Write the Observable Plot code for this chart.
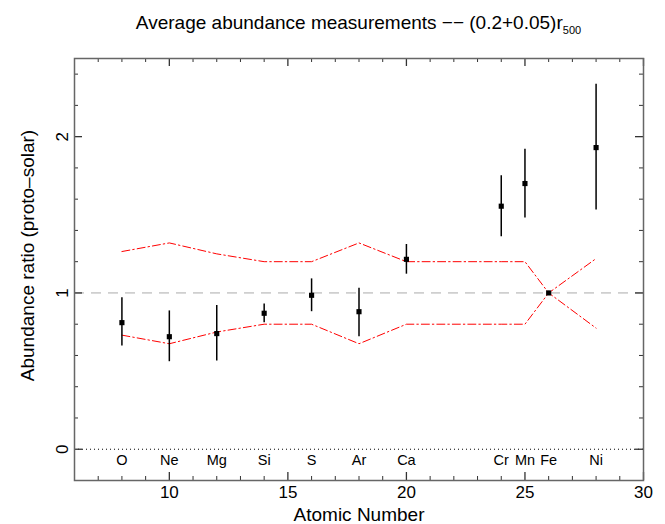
<!DOCTYPE html>
<html>
<head>
<meta charset="utf-8">
<script src="https://cdn.jsdelivr.net/npm/d3@7"></script>
<script src="https://cdn.jsdelivr.net/npm/@observablehq/plot@0.6"></script>
<style>
  body { margin: 0; background: white; }
  #wrap { position: relative; width: 665px; height: 524px; font-family: "Liberation Sans", Arial, sans-serif; }
  #title { position: absolute; left: 74px; width: 569px; top: 13px; text-align: center; font-size: 19px; line-height: 19px; color: #000; }
  #title .sub { position: relative; top: 5px; font-size: 11px; }
</style>
</head>
<body>
<div id="wrap">
  <div id="title">Average abundance measurements −− (0.2+0.05)r<span class="sub">500</span></div>
</div>
<script>
const elements = ["O","Ne","Mg","Si","S","Ar","Ca","Cr","Mn","Fe","Ni"];
const atomicNumber = [8,10,12,14,16,18,20,24,25,26,28];
const abundance = [0.81,0.72,0.74,0.87,0.985,0.88,1.215,1.555,1.70,1.00,1.93];
const errLow  = [0.66,0.56,0.565,0.81,0.88,0.72,1.12,1.36,1.48,0.99,1.53];
const errHigh = [0.97,0.885,0.92,0.93,1.09,1.03,1.31,1.75,1.92,1.01,2.335];
const sysUpper = [1.265,1.32,1.25,1.2,1.2,1.32,1.2,1.2,1.2,1.0,1.22];
const sysLower = [0.73,0.675,0.75,0.8,0.8,0.675,0.8,0.8,0.8,1.0,0.775];

const xMajorTicks = [10,15,20,25,30];
const xMinorTicks = [6,7,8,9,11,12,13,14,16,17,18,19,21,22,23,24,26,27,28,29];
const yMajorTicks = [0,1,2];
const yMinorTicks = [-0.2,0.2,0.4,0.6,0.8,1.2,1.4,1.6,1.8,2.2,2.4];

const data = elements.map((el, i) => ({
  el, Z: atomicNumber[i], ratio: abundance[i], lo: errLow[i], hi: errHigh[i],
  up: sysUpper[i], dn: sysLower[i]
}));

const W = 665, H = 524, mL = 74, mR = 22, mT = 58, mB = 44;
const FW = W - mL - mR, FH = H - mT - mB;
const tickColor = "#333";

const chart = Plot.plot({
  width: W, height: H,
  marginLeft: mL, marginRight: mR, marginTop: mT, marginBottom: mB,
  x: {domain: [6, 30], axis: null},
  y: {domain: [-0.2, 2.5], axis: null},
  style: {fontFamily: '"Liberation Sans", Arial, sans-serif', background: "white", color: "black"},
  marks: [
    Plot.ruleY([1], {stroke: "#aaa", strokeDasharray: "10,7", strokeWidth: 1}),
    Plot.ruleY([0], {stroke: "#000", strokeDasharray: "1,3", strokeWidth: 1}),
    Plot.line(data, {x: "Z", y: "up", stroke: "red", strokeWidth: 1, strokeDasharray: "8,3,1.5,3"}),
    Plot.line(data, {x: "Z", y: "dn", stroke: "red", strokeWidth: 1, strokeDasharray: "8,3,1.5,3"}),
    Plot.ruleX(data, {x: "Z", y1: "lo", y2: "hi", stroke: "black", strokeWidth: 1.5}),
    Plot.dot(data, {x: "Z", y: "ratio", symbol: "square", r: 2.9, fill: "black", stroke: null}),
    // inward ticks: bottom/top
    Plot.tickX(xMinorTicks, {x: d => d, insetTop: FH - 4, stroke: tickColor}),
    Plot.tickX(xMajorTicks, {x: d => d, insetTop: FH - 8, stroke: tickColor, strokeWidth: 1.3}),
    Plot.tickX(xMinorTicks, {x: d => d, insetBottom: FH - 4, stroke: tickColor}),
    Plot.tickX(xMajorTicks, {x: d => d, insetBottom: FH - 8, stroke: tickColor, strokeWidth: 1.3}),
    // inward ticks: left/right
    Plot.tickY(yMinorTicks, {y: d => d, insetRight: FW - 4, stroke: tickColor}),
    Plot.tickY(yMajorTicks, {y: d => d, insetRight: FW - 8, stroke: tickColor, strokeWidth: 1.3}),
    Plot.tickY(yMinorTicks, {y: d => d, insetLeft: FW - 4, stroke: tickColor}),
    Plot.tickY(yMajorTicks, {y: d => d, insetLeft: FW - 8, stroke: tickColor, strokeWidth: 1.3}),
    Plot.frame({stroke: "#666", strokeWidth: 1.5}),
    // tick labels
    Plot.text(xMajorTicks, {x: d => d, text: d => String(d), frameAnchor: "bottom", lineAnchor: "top", dy: 5, fontSize: 17, fill: "black"}),
    Plot.text(yMajorTicks, {y: d => d, text: d => String(d), frameAnchor: "left", textAnchor: "middle", dx: -12, rotate: -90, fontSize: 17, fill: "black"}),
    // element labels
    Plot.text(data, {x: "Z", text: "el", frameAnchor: "bottom", dy: -16, fontSize: 14.5, fill: "black"}),
    // axis titles
    Plot.text(["Atomic Number"], {text: d => d, frameAnchor: "bottom", lineAnchor: "bottom", dy: 40, fontSize: 19, fill: "black"}),
    Plot.text(["Abundance ratio (proto–solar)"], {text: d => d, frameAnchor: "left", textAnchor: "middle", dx: -47, dy: -14, rotate: -90, fontSize: 19, fill: "black"})
  ]
});
document.getElementById("wrap").appendChild(chart);
</script>
</body>
</html>
